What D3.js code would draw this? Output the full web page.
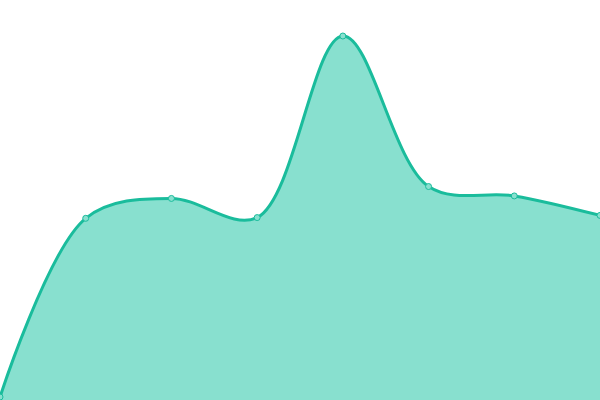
<!DOCTYPE html>
<html lang="en">
<head>
  <meta charset="utf-8">
  <title>Area</title>
  <script src="https://d3js.org/d3.v7.min.js"></script>
  <style>
    html, body { margin: 0; padding: 0; background: #fff; }
    svg { display: block; }
  </style>
</head>
<body>
  <script>
  // data
  var labels = ["a", "b", "c", "d", "e", "f", "g", "h"];
  var values = [0, 4.95, 5.5, 4.97, 10, 5.83, 5.57, 5.03];

  var width = 600;
  var height = 400;

  var svg = d3.select("body")
    .append("svg")
    .attr("width", width)
    .attr("height", height);

  var x = d3.scalePoint()
    .domain(labels)
    .range([0, width]);

  var y = d3.scaleLinear()
    .domain([0, 10])
    .range([397, 36]);

  var curve = d3.curveCatmullRom.alpha(0.5);

  var area = d3.area()
    .x(function(d, i) { return x(labels[i]); })
    .y0(height)
    .y1(function(d) { return y(d); })
    .curve(curve);

  var line = d3.line()
    .x(function(d, i) { return x(labels[i]); })
    .y(function(d) { return y(d); })
    .curve(curve);

  svg.append("path")
    .datum(values)
    .attr("fill", "#88e0cf")
    .attr("d", area);

  svg.append("path")
    .datum(values)
    .attr("fill", "none")
    .attr("stroke", "#1abc9c")
    .attr("stroke-width", 3)
    .attr("d", line);

  svg.selectAll("circle")
    .data(values)
    .enter()
    .append("circle")
    .attr("cx", function(d, i) { return x(labels[i]); })
    .attr("cy", function(d) { return y(d); })
    .attr("r", 3)
    .attr("fill", "#88e0cf")
    .attr("stroke", "#1abc9c")
    .attr("stroke-width", 1);
  </script>
</body>
</html>
